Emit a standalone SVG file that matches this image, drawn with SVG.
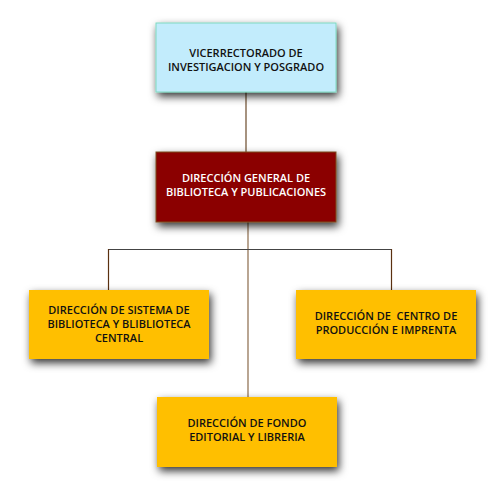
<svg xmlns="http://www.w3.org/2000/svg" width="500" height="500" viewBox="0 0 500 500">
<defs>
<filter id="sh" x="-20%" y="-30%" width="140%" height="170%">
<feDropShadow dx="2" dy="4" stdDeviation="4.5" flood-color="#000" flood-opacity="0.8"/>
</filter>
<style>
.box{filter:url(#sh);stroke-width:1}
.t{font-family:"Open Sans","Liberation Sans",sans-serif;font-size:11px;font-weight:600;text-anchor:middle;fill:#111}
.w{fill:#fff}
.c{fill:none;stroke-width:1.2}
</style>
</defs>
<rect width="500" height="500" fill="#fff"/>
<g id="connectors">
<line class="c" x1="246" y1="92" x2="246" y2="152" stroke="#6b4a2a"/>
<line class="c" x1="248" y1="222" x2="248" y2="397" stroke="#8a6a4a"/>
<line class="c" x1="108" y1="249.5" x2="392" y2="249.5" stroke="#444"/>
<line class="c" x1="108.5" y1="249" x2="108.5" y2="290" stroke="#5a3010"/>
<line class="c" x1="391.5" y1="249" x2="391.5" y2="290" stroke="#5a3010"/>
</g>
<g id="n1">
<rect class="box" x="156" y="23" width="180" height="69" fill="#C2ECFC" stroke="#7fd8c0"/>
<text class="t" x="246" y="56.5">VICERRECTORADO DE</text>
<text class="t" x="246" y="70.5">INVESTIGACION Y POSGRADO</text>
</g>
<g id="n2">
<rect class="box" x="156" y="152" width="180" height="70" fill="#8B0000" stroke="#7a4a20"/>
<text class="t w" x="246" y="182">DIRECCIÓN GENERAL DE</text>
<text class="t w" x="246" y="196">BIBLIOTECA Y PUBLICACIONES</text>
</g>
<g id="n3">
<rect class="box" x="29" y="290" width="180" height="69" fill="#FFBF00"/>
<text class="t" x="119" y="314">DIRECCIÓN DE SISTEMA DE</text>
<text class="t" x="119" y="328">BIBLIOTECA Y BLIBLIOTECA</text>
<text class="t" x="119" y="342">CENTRAL</text>
</g>
<g id="n4">
<rect class="box" x="296" y="290" width="180" height="69" fill="#FFBF00"/>
<text class="t" x="386" y="320" xml:space="preserve">DIRECCIÓN DE  CENTRO DE</text>
<text class="t" x="386" y="334">PRODUCCIÓN E IMPRENTA</text>
</g>
<g id="n5">
<rect class="box" x="157" y="397" width="180" height="70" fill="#FFBF00"/>
<text class="t" x="247" y="427">DIRECCIÓN DE FONDO</text>
<text class="t" x="247" y="441">EDITORIAL Y LIBRERIA</text>
</g>
</svg>
